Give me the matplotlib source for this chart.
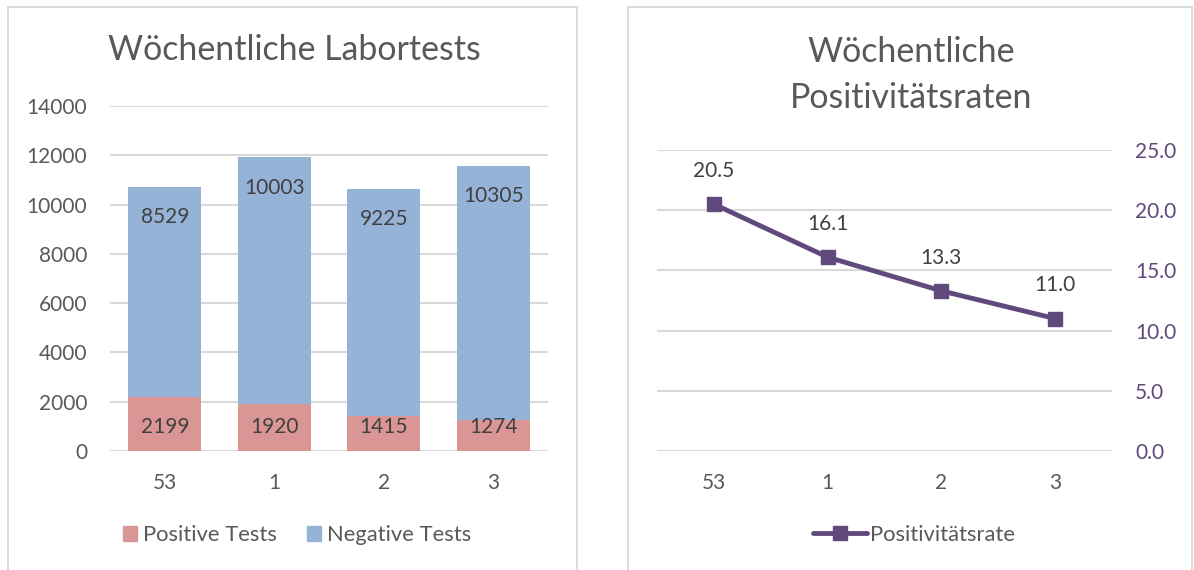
import matplotlib
matplotlib.use("Agg")
import matplotlib.pyplot as plt
from matplotlib.patches import Rectangle
from matplotlib.lines import Line2D
import numpy as np

weeks = ["53", "1", "2", "3"]
positive = [2199, 1920, 1415, 1274]
negative = [8529, 10003, 9225, 10305]
rate = [20.5, 16.1, 13.3, 11.0]
left_yticks = [0, 2000, 4000, 6000, 8000, 10000, 12000, 14000]
right_yticks = [0.0, 5.0, 10.0, 15.0, 20.0, 25.0]

plt.rcParams['font.family'] = ['Lato', 'DejaVu Sans']
TXT = '#595959'
GRID = '#D9D9D9'
POS_C = '#DA9694'
NEG_C = '#95B3D7'
LINE_C = '#604A7B'
TICK_FS = 15
LEG_FS = 15.8

W, H = 1194, 570
fig = plt.figure(figsize=(W / 100, H / 100), dpi=100)

def fx(px):
    return px / W

def fy(py):
    return 1 - py / H

# panel borders
for x0, x1 in [(8, 577), (628, 1192)]:
    fig.patches.append(Rectangle((fx(x0), fy(600)), fx(x1 - x0), (600 - 7) / H,
                                 transform=fig.transFigure, fill=False,
                                 edgecolor=GRID, linewidth=1.3))

# ---------- Left chart ----------
ax1 = fig.add_axes([fx(110), fy(451), fx(548 - 110), (451 - 106) / H])
x = np.arange(len(weeks))
ax1.bar(x, positive, width=0.67, color=POS_C, label='Positive Tests', zorder=3)
ax1.bar(x, negative, width=0.67, bottom=positive, color=NEG_C,
        label='Negative Tests', zorder=3)
ax1.set_xlim(-0.5, len(weeks) - 0.5)
ax1.set_ylim(0, 14000)
ax1.set_yticks(left_yticks)
ax1.set_yticklabels([str(v) for v in left_yticks])
ax1.set_xticks(x)
ax1.set_xticklabels(weeks)
ax1.grid(axis='y', color=GRID, linewidth=1.5, zorder=0)
for s in ax1.spines.values():
    s.set_visible(False)
ax1.tick_params(axis='both', length=0, labelsize=TICK_FS, colors=TXT)
ax1.tick_params(axis='y', pad=16.5)
ax1.tick_params(axis='x', pad=16)
for i in range(len(weeks)):
    ax1.annotate(str(positive[i]), (x[i], 0), xytext=(0, 17), textcoords='offset points',
                 ha='center', va='center', fontsize=TICK_FS, color='#404040', zorder=5)
    ax1.annotate(str(negative[i]), (x[i], positive[i] + negative[i]), xytext=(0, -22),
                 textcoords='offset points', ha='center', va='center',
                 fontsize=TICK_FS, color='#404040', zorder=5)
fig.text(fx(294), fy(50), 'Wöchentliche Labortests', ha='center', va='center',
         fontsize=24.4, color=TXT)
h1 = [Rectangle((0, 0), 1, 1, color=POS_C), Rectangle((0, 0), 1, 1, color=NEG_C)]
fig.legend(h1, ['Positive Tests', 'Negative Tests'], loc='center',
           bbox_to_anchor=(fx(297), fy(535)), ncol=2, frameon=False,
           fontsize=LEG_FS, labelcolor=TXT, handlelength=0.64, handleheight=0.64,
           handletextpad=0.27, columnspacing=1.37)

# ---------- Right chart ----------
ax2 = fig.add_axes([fx(657), fy(451), fx(1112 - 657), (451 - 150) / H])
ax2.plot(x, rate, color=LINE_C, linewidth=3.5, marker='s', markersize=10,
         label='Positivitätsrate', zorder=3)
ax2.set_xlim(-0.5, len(weeks) - 0.5)
ax2.set_ylim(0, 25)
ax2.set_yticks(right_yticks)
ax2.set_yticklabels([f'{v:.1f}' for v in right_yticks])
ax2.yaxis.tick_right()
ax2.set_xticks(x)
ax2.set_xticklabels(weeks)
ax2.grid(axis='y', color=GRID, linewidth=1.5, zorder=0)
for s in ax2.spines.values():
    s.set_visible(False)
ax2.tick_params(axis='both', length=0, labelsize=TICK_FS)
ax2.tick_params(axis='x', colors=TXT, pad=16)
ax2.tick_params(axis='y', colors=LINE_C, pad=16.5)
for i in range(len(weeks)):
    ax2.annotate(f'{rate[i]:.1f}', (x[i], rate[i]), xytext=(0, 24),
                 textcoords='offset points', ha='center', va='center',
                 fontsize=TICK_FS, color='#404040')
fig.text(fx(911), fy(52), 'Wöchentliche', ha='center', va='center',
         fontsize=24.4, color=TXT)
fig.text(fx(911), fy(98), 'Positivitätsraten', ha='center', va='center',
         fontsize=24.4, color=TXT)
h2 = [Line2D([0], [0], color=LINE_C, linewidth=3.5, marker='s', markersize=10,
             solid_capstyle='round')]
fig.legend(h2, ['Positivitätsrate'], loc='center', bbox_to_anchor=(fx(914), fy(535)),
           frameon=False, fontsize=LEG_FS, labelcolor=TXT, handlelength=2.5,
           handletextpad=0.14)

fig.savefig('out.png', dpi=100, facecolor='white')
